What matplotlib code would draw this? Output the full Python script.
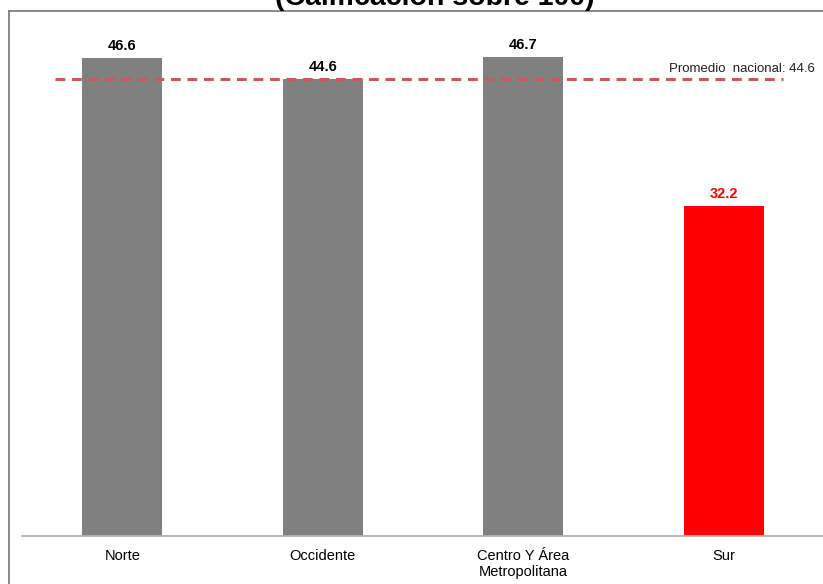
import matplotlib
matplotlib.use("Agg")
import matplotlib.pyplot as plt
from matplotlib.lines import Line2D

plt.rcParams['font.family'] = ['Liberation Sans', 'DejaVu Sans']

# datos
regiones = ["Norte", "Occidente", "Centro Y Área\nMetropolitana", "Sur"]
calificacion = [46.6, 44.6, 46.7, 32.2]
colores = ["#808080", "#808080", "#808080", "#FF0000"]
colores_etiqueta = ["black", "black", "black", "#FF0000"]
promedio = 44.6

W, H = 823, 584
fig = plt.figure(figsize=(W / 100, H / 100), dpi=100)

# ejes: base en y=536 px, de x=22 a x=824 px
ax = fig.add_axes([22 / W, (H - 536) / H, 802 / W, 512.6 / H])
x = range(len(regiones))
ax.bar(x, calificacion, width=0.4, color=colores, zorder=2)
ax.set_xlim(-0.5, 3.5)
ax.set_ylim(0, 50)

for i, v in enumerate(calificacion):
    ax.annotate(f"{v:.1f}", (i, v), xytext=(0, 3.5), textcoords="offset points",
                ha="center", va="bottom", fontsize=10.5, fontweight="bold",
                color=colores_etiqueta[i])

# linea del promedio nacional
ax.plot([-0.335, 3.295], [promedio, promedio], linestyle=(0, (3.2, 2.2)),
        color="#CF5757", linewidth=2.2, zorder=3)
ax.text(3.455, promedio + 0.35, f"Promedio  nacional: {promedio}",
        ha="right", va="bottom", fontsize=9.5, color="#222222")

for s in ["top", "right", "left"]:
    ax.spines[s].set_visible(False)
ax.spines["bottom"].set_color("#B0B0B0")
ax.spines["bottom"].set_linewidth(1.3)
ax.set_yticks([])
ax.set_xticks(list(x))
ax.set_xticklabels(regiones, fontsize=10.5)
ax.tick_params(axis="x", length=0, pad=9)

# marco exterior
fig.add_artist(Line2D([9 / W, 9 / W], [0, (H - 10.5) / H], color="#808080", linewidth=1.3))
fig.add_artist(Line2D([9 / W, 1], [(H - 10.5) / H, (H - 10.5) / H], color="#808080", linewidth=1.3))

# titulo (recortado en la parte superior, como en el original)
fig.text(435 / W, (H - 5) / H, "(Calificación sobre 100)", ha="center", va="baseline",
         fontsize=20.5, fontweight="bold")

fig.savefig("out.png", dpi=100)
